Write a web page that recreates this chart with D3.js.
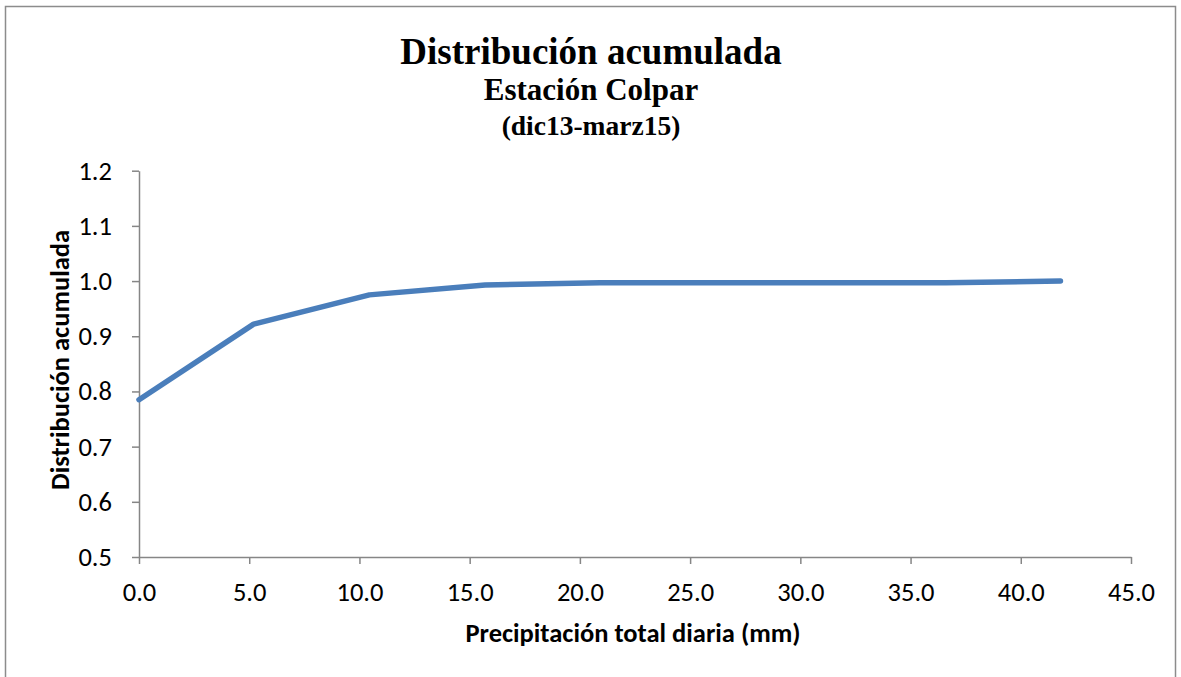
<!DOCTYPE html>
<html>
<head>
<meta charset="utf-8">
<script src="https://cdn.jsdelivr.net/npm/d3@7"></script>
<style>
  html, body { margin: 0; padding: 0; background: #fff; }
  svg { display: block; }
</style>
</head>
<body>
<svg id="chart" width="1181" height="677"></svg>
<script>
// Precipitation thresholds (mm) and cumulative distribution values
const precipitation = [0.0, 5.2, 10.45, 15.7, 20.9, 26.1, 31.35, 36.6, 41.8];
const cumulative = [0.785, 0.922, 0.975, 0.993, 0.997, 0.997, 0.997, 0.997, 1.0];
const xTicks = [0, 5, 10, 15, 20, 25, 30, 35, 40, 45];
const yTicks = [0.5, 0.6, 0.7, 0.8, 0.9, 1.0, 1.1, 1.2];
const titleLines = ["Distribución acumulada", "Estación Colpar", "(dic13-marz15)"];
const xTitle = "Precipitación total diaria (mm)";
const yTitle = "Distribución acumulada";

const svg = d3.select("#chart");
const margin = { left: 139, right: 1131, top: 170.7, bottom: 557 };
const axisColor = "#868686";
const sansFont = "Carlito, Lato, 'Liberation Sans', sans-serif";
const serifFont = "'Liberation Serif', 'Times New Roman', serif";
const labelSize = 26.5;

// Chart frame
svg.append("rect")
  .attr("x", 5.5).attr("y", 6.5)
  .attr("width", 1170).attr("height", 700)
  .attr("fill", "#fff")
  .attr("stroke", "#8c8c8c")
  .attr("stroke-width", 1.5);

const x = d3.scaleLinear().domain([0, 45]).range([margin.left, margin.right]);
const y = d3.scaleLinear().domain([0.5, 1.2]).range([margin.bottom, margin.top]);

// Y axis
const yAxis = svg.append("g")
  .attr("transform", `translate(${margin.left},0)`)
  .call(d3.axisLeft(y).tickValues(yTicks).tickFormat(d3.format(".1f")).tickSize(7).tickSizeOuter(0));
yAxis.select(".domain").attr("stroke", axisColor).attr("stroke-width", 1.5);
yAxis.selectAll(".tick line").attr("stroke", axisColor).attr("stroke-width", 1.5);
yAxis.selectAll(".tick text")
  .attr("x", -27)
  .attr("fill", "#000")
  .style("font-family", sansFont)
  .style("font-size", labelSize + "px");

// X axis
const xAxis = svg.append("g")
  .attr("transform", `translate(0,${margin.bottom})`)
  .call(d3.axisBottom(x).tickValues(xTicks).tickFormat(d3.format(".1f")).tickSize(7).tickSizeOuter(0));
xAxis.select(".domain").attr("stroke", axisColor).attr("stroke-width", 1.5);
xAxis.selectAll(".tick line").attr("stroke", axisColor).attr("stroke-width", 1.5);
xAxis.selectAll(".tick text")
  .attr("y", 25)
  .attr("fill", "#000")
  .style("font-family", sansFont)
  .style("font-size", labelSize + "px");

// Cumulative distribution line
const points = precipitation.map((p, i) => [p, cumulative[i]]);
svg.append("path")
  .datum(points)
  .attr("fill", "none")
  .attr("stroke", "#4a7ebb")
  .attr("stroke-width", 5.5)
  .attr("stroke-linejoin", "round")
  .attr("stroke-linecap", "round")
  .attr("d", d3.line().x(d => x(d[0])).y(d => y(d[1])));

// Titles
const titleSizes = [37, 31, 27.5];
const titleY = [64, 100, 135];
titleLines.forEach((t, i) => {
  svg.append("text")
    .attr("x", 591).attr("y", titleY[i])
    .attr("text-anchor", "middle")
    .style("font-family", serifFont)
    .style("font-weight", "bold")
    .style("font-size", titleSizes[i] + "px")
    .text(t);
});

// Axis titles
svg.append("text")
  .attr("x", 633).attr("y", 642)
  .attr("text-anchor", "middle")
  .style("font-family", sansFont)
  .style("font-weight", "bold")
  .style("font-size", labelSize + "px")
  .text(xTitle);

svg.append("text")
  .attr("transform", `translate(69,360) rotate(-90)`)
  .attr("text-anchor", "middle")
  .style("font-family", sansFont)
  .style("font-weight", "bold")
  .style("font-size", labelSize + "px")
  .text(yTitle);
</script>
</body>
</html>
